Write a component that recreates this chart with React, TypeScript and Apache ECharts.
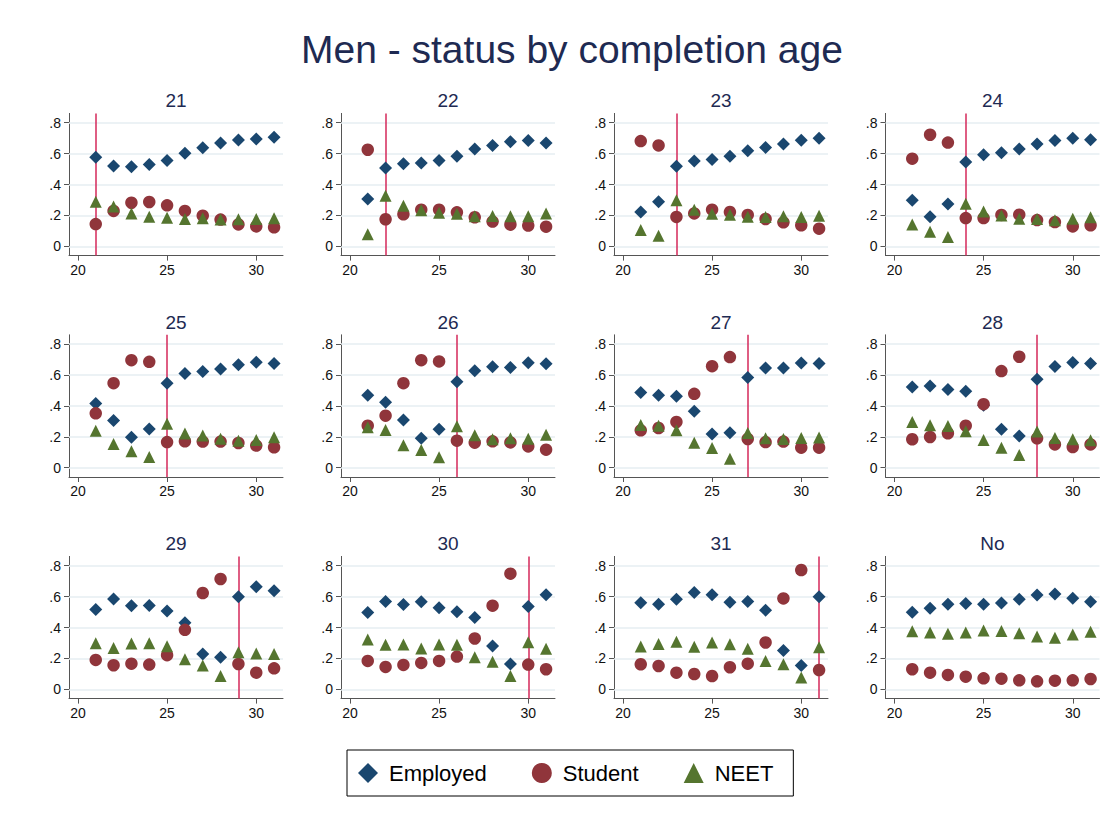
import React, { useEffect, useRef } from "react";
import * as echarts from "echarts";

const ages = [21, 22, 23, 24, 25, 26, 27, 28, 29, 30, 31];
const panelTitles = ["21", "22", "23", "24", "25", "26", "27", "28", "29", "30", "31", "No"];
const completionAges: (number | null)[] = [21, 22, 23, 24, 25, 26, 27, 28, 29, 30, 31, null];
const yTicks = [0, 0.2, 0.4, 0.6, 0.8];
const xTicks = [20, 25, 30];
const seriesNames = ["Employed", "Student", "NEET"];

const employed = [
  [0.576, 0.52, 0.515, 0.53, 0.556, 0.602, 0.638, 0.668, 0.688, 0.694, 0.705],
  [0.306, 0.507, 0.535, 0.539, 0.556, 0.582, 0.63, 0.653, 0.677, 0.684, 0.668],
  [0.222, 0.289, 0.518, 0.552, 0.561, 0.582, 0.619, 0.64, 0.662, 0.686, 0.699],
  [0.298, 0.192, 0.274, 0.546, 0.593, 0.606, 0.63, 0.662, 0.684, 0.699, 0.69],
  [0.415, 0.305, 0.197, 0.251, 0.547, 0.61, 0.623, 0.638, 0.666, 0.683, 0.675],
  [0.469, 0.424, 0.309, 0.19, 0.249, 0.556, 0.627, 0.653, 0.649, 0.679, 0.672],
  [0.486, 0.469, 0.463, 0.365, 0.218, 0.227, 0.584, 0.645, 0.645, 0.677, 0.675],
  [0.523, 0.528, 0.506, 0.495, 0.405, 0.249, 0.205, 0.573, 0.655, 0.681, 0.675],
  [0.517, 0.584, 0.541, 0.543, 0.506, 0.43, 0.229, 0.208, 0.599, 0.664, 0.638],
  [0.497, 0.569, 0.549, 0.566, 0.528, 0.502, 0.465, 0.281, 0.164, 0.536, 0.612],
  [0.56, 0.551, 0.582, 0.627, 0.612, 0.564, 0.569, 0.512, 0.251, 0.154, 0.599],
  [0.499, 0.525, 0.551, 0.556, 0.551, 0.558, 0.582, 0.61, 0.616, 0.59, 0.566],
];

const student = [
  [0.144, 0.229, 0.282, 0.287, 0.265, 0.229, 0.198, 0.173, 0.142, 0.129, 0.123],
  [0.625, 0.175, 0.207, 0.237, 0.237, 0.22, 0.188, 0.16, 0.14, 0.134, 0.127],
  [0.681, 0.653, 0.19, 0.213, 0.237, 0.222, 0.203, 0.177, 0.155, 0.136, 0.114],
  [0.567, 0.722, 0.671, 0.183, 0.183, 0.203, 0.205, 0.17, 0.157, 0.129, 0.136],
  [0.352, 0.547, 0.696, 0.685, 0.166, 0.171, 0.169, 0.169, 0.16, 0.143, 0.132],
  [0.272, 0.337, 0.547, 0.696, 0.688, 0.175, 0.162, 0.171, 0.164, 0.138, 0.117],
  [0.242, 0.257, 0.296, 0.478, 0.657, 0.716, 0.186, 0.166, 0.169, 0.13, 0.13],
  [0.184, 0.199, 0.223, 0.272, 0.411, 0.625, 0.718, 0.19, 0.151, 0.134, 0.151],
  [0.19, 0.156, 0.166, 0.16, 0.221, 0.385, 0.623, 0.714, 0.164, 0.108, 0.136],
  [0.184, 0.145, 0.158, 0.171, 0.184, 0.212, 0.329, 0.541, 0.748, 0.16, 0.13],
  [0.162, 0.151, 0.108, 0.099, 0.086, 0.143, 0.166, 0.303, 0.588, 0.772, 0.125],
  [0.13, 0.108, 0.093, 0.082, 0.071, 0.069, 0.058, 0.052, 0.056, 0.058, 0.067],
];

const neet = [
  [0.289, 0.257, 0.213, 0.192, 0.185, 0.177, 0.181, 0.173, 0.175, 0.177, 0.181],
  [0.078, 0.328, 0.263, 0.233, 0.218, 0.211, 0.194, 0.196, 0.194, 0.194, 0.213],
  [0.106, 0.069, 0.298, 0.237, 0.211, 0.205, 0.192, 0.19, 0.194, 0.19, 0.198],
  [0.142, 0.095, 0.06, 0.276, 0.226, 0.2, 0.179, 0.177, 0.168, 0.179, 0.188],
  [0.24, 0.154, 0.106, 0.069, 0.285, 0.221, 0.208, 0.188, 0.175, 0.179, 0.197],
  [0.262, 0.244, 0.145, 0.115, 0.067, 0.268, 0.21, 0.184, 0.19, 0.188, 0.214],
  [0.277, 0.272, 0.242, 0.162, 0.128, 0.058, 0.225, 0.19, 0.186, 0.192, 0.195],
  [0.296, 0.275, 0.27, 0.236, 0.18, 0.13, 0.082, 0.234, 0.192, 0.184, 0.177],
  [0.298, 0.268, 0.296, 0.298, 0.279, 0.195, 0.154, 0.086, 0.24, 0.231, 0.229],
  [0.322, 0.288, 0.29, 0.264, 0.29, 0.288, 0.208, 0.179, 0.086, 0.305, 0.262],
  [0.277, 0.294, 0.307, 0.275, 0.303, 0.292, 0.262, 0.184, 0.162, 0.076, 0.272],
  [0.376, 0.368, 0.359, 0.368, 0.38, 0.378, 0.363, 0.342, 0.333, 0.355, 0.372],
];

const COLORS = ["#1a476f", "#90353b", "#55752f"];
const SYMBOLS = ["diamond", "circle", "triangle"];
const SIZES = [13, 12.5, 12];
const FONT = "'Liberation Sans', Arial, Helvetica, sans-serif";
const TITLE_COLOR = "#1e2a52";

export default function App() {
  const ref = useRef<HTMLDivElement>(null);

  useEffect(() => {
    if (!ref.current) return;
    const chart = echarts.init(ref.current, undefined, { renderer: "svg" });

    const colLeft = [69, 341, 614, 885.5];
    const rowTop = [113.4, 334.8, 556.4];
    const gw = 214;
    const gh = 142.2;

    const grids: any[] = [];
    const xAxes: any[] = [];
    const yAxes: any[] = [];
    const series: any[] = [];
    const graphics: any[] = [];

    const yDataSets = [employed, student, neet];

    panelTitles.forEach((t, i) => {
      const c = i % 4;
      const r = Math.floor(i / 4);
      grids.push({ left: colLeft[c], top: rowTop[r], width: gw, height: gh, containLabel: false });
      xAxes.push({
        type: "value",
        gridIndex: i,
        min: 19.5,
        max: 31.5,
        axisLine: { show: true, onZero: false, lineStyle: { color: "#555", width: 1 } },
        axisTick: { show: true, length: 5, customValues: xTicks, lineStyle: { color: "#555" } },
        axisLabel: { customValues: xTicks, color: "#111", fontSize: 14, fontFamily: FONT, margin: 7 },
        splitLine: { show: false },
      });
      yAxes.push({
        type: "value",
        gridIndex: i,
        min: -0.06,
        max: 0.86,
        axisLine: { show: true, onZero: false, lineStyle: { color: "#555", width: 1 } },
        axisTick: { show: true, length: 5, customValues: yTicks, lineStyle: { color: "#555" } },
        axisLabel: {
          customValues: yTicks,
          color: "#111",
          fontSize: 14,
          fontFamily: FONT,
          margin: 8,
          formatter: (v: number) => (Math.abs(v) < 1e-9 ? "0" : String(Math.round(v * 10) / 10).replace(/^0\./, ".")),
        },
        splitLine: { show: false },
      });

      graphics.push({
        type: "text",
        x: colLeft[c] + gw / 2,
        y: rowTop[r] - 22,
        style: { text: t, textAlign: "center", fontSize: 19, fill: TITLE_COLOR, fontFamily: FONT },
      });

      seriesNames.forEach((name, k) => {
        const s: any = {
          name,
          type: "scatter",
          xAxisIndex: i,
          yAxisIndex: i,
          symbol: SYMBOLS[k],
          symbolSize: SIZES[k],
          itemStyle: { color: COLORS[k], opacity: 1 },
          z: 2 + k,
          data: ages.map((a, j) => [a, yDataSets[k][i][j]]),
          silent: true,
        };
        if (k === 0) {
          const lines: any[] = yTicks.map((v) => ({ yAxis: v, lineStyle: { color: "#e6eef2", width: 1.5, type: "solid" } }));
          const ca = completionAges[i];
          if (ca !== null) {
            lines.push({ xAxis: ca, lineStyle: { color: "#d4285a", width: 1.5, type: "solid" } });
          }
          s.markLine = {
            silent: true,
            symbol: "none",
            z: 1,
            label: { show: false },
            data: lines,
          };
        }
        series.push(s);
      });
    });

    chart.setOption({
      animation: false,
      backgroundColor: "#ffffff",
      title: {
        text: "Men - status by completion age",
        left: 296,
        top: 25,
        textStyle: { fontSize: 39, fontWeight: "normal", color: TITLE_COLOR, fontFamily: FONT },
      },
      legend: {
        data: seriesNames,
        left: 347,
        top: 750,
        orient: "horizontal",
        borderColor: "#000",
        borderWidth: 1,
        padding: [12, 20, 12, 11],
        itemGap: 45,
        itemWidth: 20,
        itemHeight: 20,
        textStyle: { fontSize: 22, color: "#000", fontFamily: FONT, padding: [0, 0, 0, 6] },
      },
      grid: grids,
      xAxis: xAxes,
      yAxis: yAxes,
      series,
      graphic: graphics,
    });

    return () => chart.dispose();
  }, []);

  return (
    <div
      ref={ref}
      style={{ position: "fixed", left: 0, top: 0, width: 1117, height: 819, background: "#fff" }}
    />
  );
}
